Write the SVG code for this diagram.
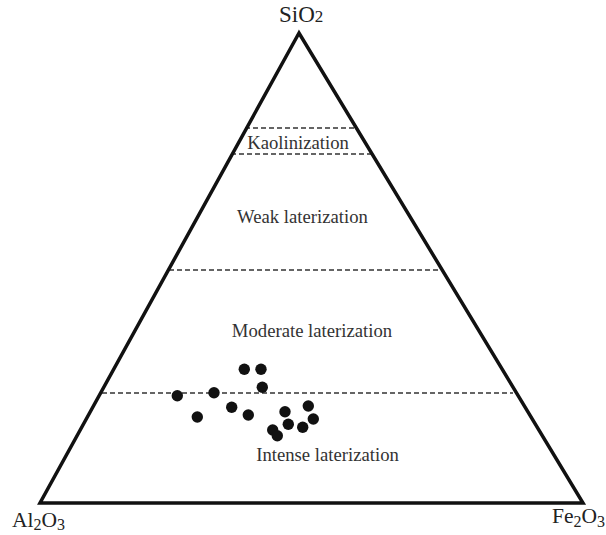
<svg xmlns="http://www.w3.org/2000/svg" width="606" height="535" viewBox="0 0 606 535">
<style>
.lbl{font-family:"Liberation Serif","Times New Roman",serif;fill:#333;}
.zone{font-size:18.7px;text-anchor:middle;}
.corner{font-size:21.5px;fill:#222;}
.apex{font-size:23px;}
.sub{font-size:16px;}
.dash{stroke:#333;stroke-width:1.6;stroke-dasharray:5 3;fill:none;}
.dot{fill:#111;}
</style>
<rect width="606" height="535" fill="#fff"/>
<g id="boundaries">
<line class="dash" x1="245" y1="128" x2="358" y2="128"/>
<line class="dash" x1="231" y1="154" x2="371" y2="154"/>
<line class="dash" x1="169" y1="270" x2="441" y2="270"/>
<line class="dash" x1="102" y1="393" x2="513" y2="393"/>
</g>
<g id="triangle">
<polygon points="299,33 40,503 583,503" fill="none" stroke="#111" stroke-width="3.5" stroke-linejoin="miter"/>
</g>
<g id="labels">
<text class="lbl corner apex" x="279" y="22">SiO<tspan style="font-size:17px">2</tspan></text>
<text class="lbl corner" x="12" y="527">Al<tspan class="sub" dy="3">2</tspan><tspan dy="-3">O</tspan><tspan class="sub" dy="3">3</tspan></text>
<text class="lbl corner" x="552" y="523">Fe<tspan class="sub" dy="4">2</tspan><tspan dy="-4">O</tspan><tspan class="sub" dy="4">3</tspan></text>
<text class="lbl zone" x="298" y="149">Kaolinization</text>
<text class="lbl zone" x="302.5" y="223">Weak laterization</text>
<text class="lbl zone" x="312" y="337">Moderate laterization</text>
<text class="lbl zone" x="327.5" y="461">Intense laterization</text>
</g>
<g id="samples">
<circle class="dot" cx="244.3" cy="369.3" r="5.7"/>
<circle class="dot" cx="261" cy="369.3" r="5.7"/>
<circle class="dot" cx="262.3" cy="387.3" r="5.7"/>
<circle class="dot" cx="177.3" cy="395.7" r="5.7"/>
<circle class="dot" cx="214" cy="392.7" r="5.7"/>
<circle class="dot" cx="197.3" cy="417" r="5.7"/>
<circle class="dot" cx="231.7" cy="407.3" r="5.7"/>
<circle class="dot" cx="248.3" cy="415" r="5.7"/>
<circle class="dot" cx="285" cy="411.7" r="5.7"/>
<circle class="dot" cx="308.3" cy="406" r="5.7"/>
<circle class="dot" cx="313.3" cy="419" r="5.7"/>
<circle class="dot" cx="288.3" cy="424.3" r="5.7"/>
<circle class="dot" cx="302.7" cy="427.3" r="5.7"/>
<circle class="dot" cx="272.7" cy="430" r="5.7"/>
<circle class="dot" cx="277.3" cy="435.7" r="5.7"/>
</g>
</svg>
